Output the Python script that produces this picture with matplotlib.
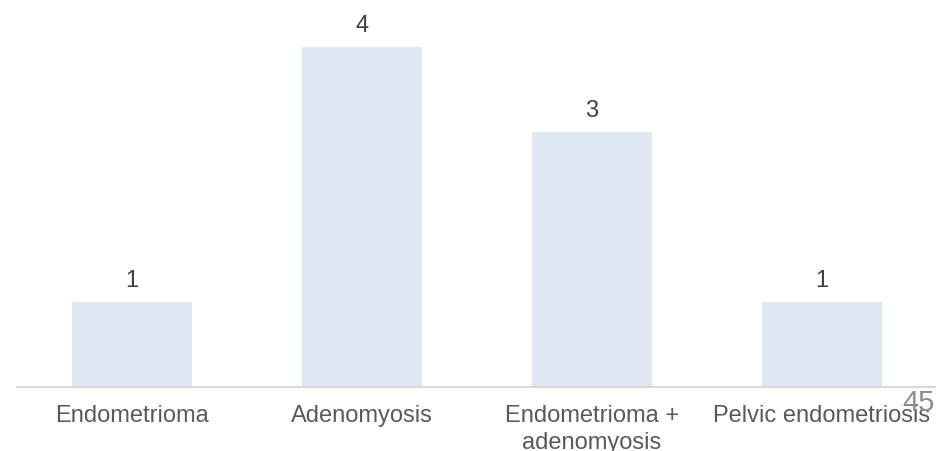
import matplotlib
matplotlib.use("Agg")
import matplotlib.pyplot as plt

categories = ["Endometrioma", "Adenomyosis", "Endometrioma +\nadenomyosis", "Pelvic endometriosis"]
counts = [1, 4, 3, 1]
slide_number = "45"

plt.rcParams["font.family"] = ["Liberation Sans", "DejaVu Sans"]

fig = plt.figure(figsize=(9.36, 4.51), dpi=100)
ax = fig.add_axes([17 / 936, 64 / 451, 920 / 936, 387 / 451])

x = range(len(categories))
bars = ax.bar(x, counts, width=0.52, color="#DEE8F5", zorder=2)

ax.set_xlim(-0.5, 3.5)
ax.set_ylim(0, 4.553)

for rect, v in zip(bars, counts):
    ax.annotate(str(v), (rect.get_x() + rect.get_width() / 2, v),
                xytext=(0, 10), textcoords="offset pixels",
                ha="center", va="bottom", fontsize=17, color="#404040")

ax.set_xticks(list(x))
ax.set_xticklabels(categories, fontsize=17, color="#595959", linespacing=1.27)
ax.tick_params(axis="x", length=0, pad=13)
ax.set_yticks([])

for side in ("left", "right", "top"):
    ax.spines[side].set_visible(False)
ax.spines["bottom"].set_color("#D9D9D9")
ax.spines["bottom"].set_linewidth(1.5)
ax.spines["bottom"].set_zorder(3)

fig.text(935 / 936, 1 - 411 / 451, slide_number, ha="right", va="baseline",
         fontsize=21, color="#8C8C8C")

fig.savefig("out.png", dpi=100)
